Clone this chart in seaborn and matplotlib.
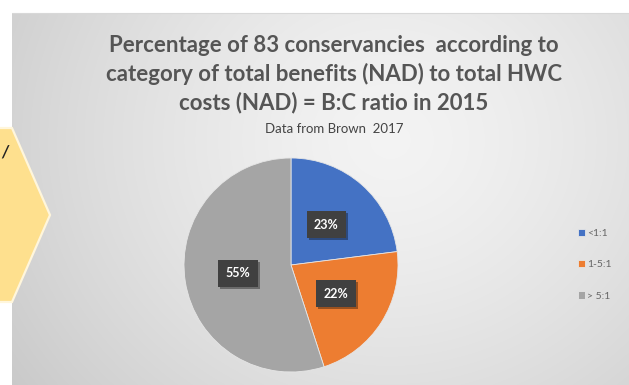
import numpy as np
import matplotlib
matplotlib.use("Agg")
import matplotlib.pyplot as plt
import matplotlib.patheffects as pe
from matplotlib.patches import Polygon
import seaborn as sns

# ---- data ----
categories = ["<1:1", "1-5:1", "> 5:1"]
values = [23, 22, 55]
colors = ["#4472C4", "#ED7D31", "#A5A5A5"]
title_lines = ["Percentage of 83 conservancies  according to",
               "category of total benefits (NAD) to total HWC",
               "costs (NAD) = B:C ratio in 2015"]
subtitle = "Data from Brown  2017"

sns.set_theme(style="white")
plt.rcParams["font.family"] = ["Lato", "DejaVu Sans"]

W, H = 629, 385
fig = plt.figure(figsize=(W / 100, H / 100), dpi=100)
fig.patch.set_facecolor("white")

# ---- background panel with soft radial gradient ----
bg = fig.add_axes([0, 0, 1, 1])
bg.set_xlim(0, W)
bg.set_ylim(H, 0)
bg.axis("off")
yy, xx = np.mgrid[0:H, 0:W]
r = np.hypot(xx - 390, (yy - 140) * 1.1)
val = 0.955 - 0.17 * (r / r.max()) ** 1.4
img = np.ones((H, W, 3))
mask = (xx >= 12) & (yy >= 13)
for c in range(3):
    ch = img[:, :, c]
    ch[mask] = val[mask]
bg.imshow(img, extent=(0, W, H, 0), origin="upper", aspect="auto", zorder=0)
bg.plot([12, W], [13, 13], color="#d8d8d8", lw=0.8, zorder=1)

# yellow hexagon on the left
hexv = [(-5, 128), (12, 128), (50, 215), (12, 302), (-5, 302)]
bg.add_patch(Polygon(hexv, closed=True, facecolor="#FEE08E",
                     edgecolor="#FFF6DC", lw=1.6, zorder=2))
bg.text(5, 152, "/", fontsize=12, color="#222222", style="italic",
        fontweight="bold", ha="center", va="center", zorder=3)

# ---- titles ----
tcolor = "#555555"
for i, line in enumerate(title_lines):
    fig.text(334 / W, 1 - (45 + 29 * i) / H, line, ha="center", va="center",
             fontsize=16, fontweight="bold", color=tcolor)
fig.text(334 / W, 1 - 129 / H, subtitle, ha="center", va="center",
         fontsize=9.5, color="#444444")

# ---- pie ----
cx, cy, R = 291, 265, 107
ax = fig.add_axes([(cx - R) / W, (H - cy - R) / H, 2 * R / W, 2 * R / H])
wedges, texts, autotexts = ax.pie(
    values, colors=colors, startangle=90, counterclock=False,
    autopct="%1.0f%%", pctdistance=0.5,
    wedgeprops=dict(linewidth=0.6, edgecolor="#e6e6e6"),
    textprops=dict(color="white", fontsize=9, fontweight="bold"))
ax.set_xlim(-1, 1)
ax.set_ylim(-1, 1)
ax.set_aspect("equal")
ax.axis("off")
for t in autotexts:
    t.set_bbox(dict(boxstyle="square,pad=0.6", fc="#404040", ec="none"))
    t.get_bbox_patch().set_path_effects(
        [pe.SimplePatchShadow(offset=(1.5, -1.5), shadow_rgbFace="#000000", alpha=0.35), pe.Normal()])

# ---- legend ----
fig.legend(wedges, categories, loc="upper left",
           bbox_to_anchor=(578 / W, 1 - 229 / H), frameon=False,
           fontsize=7.5, labelcolor="#666666", handlelength=0.7,
           handleheight=0.7, handletextpad=0.2, labelspacing=2.1,
           borderpad=0, borderaxespad=0)

fig.savefig("out.png", dpi=100)
